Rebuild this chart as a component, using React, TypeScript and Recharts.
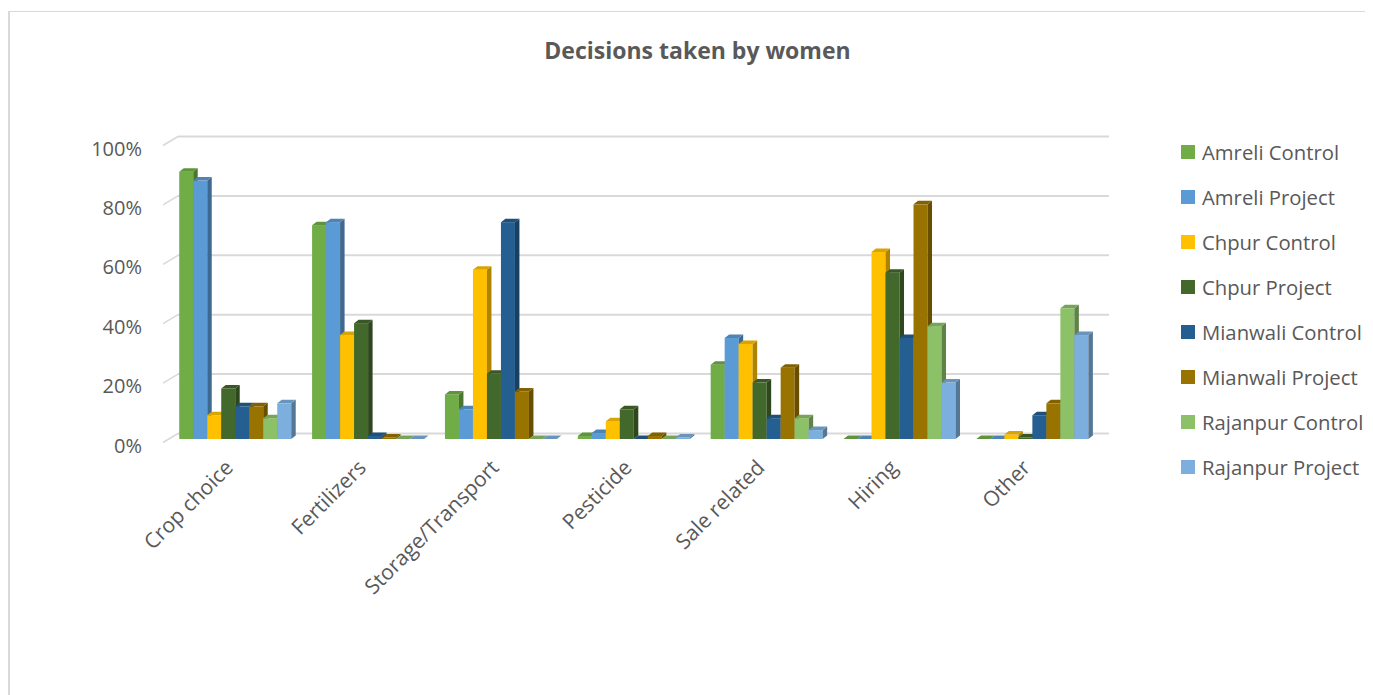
import { BarChart, Bar, XAxis, YAxis, CartesianGrid } from 'recharts';

const CATEGORIES = ['Crop choice', 'Fertilizers', 'Storage/Transport', 'Pesticide', 'Sale related', 'Hiring', 'Other'];

const SERIES_NAMES = [
  'Amreli Control',
  'Amreli Project',
  'Chpur Control',
  'Chpur Project',
  'Mianwali Control',
  'Mianwali Project',
  'Rajanpur Control',
  'Rajanpur Project',
];

const SERIES_COLORS = ['#70AD47', '#5B9BD5', '#FFC000', '#43682B', '#255E91', '#997300', '#8CC168', '#7CAFDD'];

// share of respondents, one value per category
const AMRELI_CONTROL = [0.9, 0.72, 0.15, 0.01, 0.25, 0, 0];
const AMRELI_PROJECT = [0.87, 0.73, 0.1, 0.02, 0.34, 0, 0];
const CHPUR_CONTROL = [0.08, 0.35, 0.57, 0.06, 0.32, 0.63, 0.015];
const CHPUR_PROJECT = [0.17, 0.39, 0.22, 0.1, 0.19, 0.56, 0.005];
const MIANWALI_CONTROL = [0.11, 0.01, 0.73, 0, 0.07, 0.34, 0.08];
const MIANWALI_PROJECT = [0.11, 0.005, 0.16, 0.01, 0.24, 0.79, 0.12];
const RAJANPUR_CONTROL = [0.07, 0, 0, 0, 0.07, 0.38, 0.44];
const RAJANPUR_PROJECT = [0.12, 0, 0, 0.005, 0.03, 0.19, 0.35];

const Y_TICKS = [0, 0.2, 0.4, 0.6, 0.8, 1];

const SERIES_VALUES = [
  AMRELI_CONTROL,
  AMRELI_PROJECT,
  CHPUR_CONTROL,
  CHPUR_PROJECT,
  MIANWALI_CONTROL,
  MIANWALI_PROJECT,
  RAJANPUR_CONTROL,
  RAJANPUR_PROJECT,
];

const data = CATEGORIES.map((name, i) => {
  const row: Record<string, any> = { name };
  SERIES_NAMES.forEach((s, j) => {
    row[s] = SERIES_VALUES[j][i];
  });
  return row;
});

const FONT = '"Open Sans", sans-serif';
const TEXT = '#595959';
const DEPTH_X = 4.5;
const DEPTH_Y = 3.5;

function shade(hex: string, f: number) {
  const n = parseInt(hex.slice(1), 16);
  const r = Math.round(((n >> 16) & 255) * f);
  const g = Math.round(((n >> 8) & 255) * f);
  const b = Math.round((n & 255) * f);
  return `rgb(${r},${g},${b})`;
}

// column with a thin top and right face to fake Excel's 3D look
const Column3D = (props: any) => {
  const { x, y, width, height, fill } = props;
  if (x == null || y == null) return null;
  const h = Math.max(0, height || 0);
  const top = `${x},${y} ${x + DEPTH_X},${y - DEPTH_Y} ${x + width + DEPTH_X},${y - DEPTH_Y} ${x + width},${y}`;
  const side = `${x + width},${y} ${x + width + DEPTH_X},${y - DEPTH_Y} ${x + width + DEPTH_X},${y + h - DEPTH_Y} ${x + width},${y + h}`;
  return (
    <g>
      {h > 0 && <rect x={x} y={y} width={width} height={h} fill={fill} />}
      <polygon points={side} fill={shade(fill, 0.68)} />
      <polygon points={top} fill={shade(fill, 0.85)} />
    </g>
  );
};

const GridLine = (props: any) => {
  const { x1, x2, y1, index } = props;
  const gy = y1 - 5.5;
  return (
    <g key={`grid-${index}`}>
      <line x1={x1 + 9} x2={x2 + 10} y1={gy} y2={gy} stroke="#d9d9d9" strokeWidth={2} />
      <line x1={x1 - 6} y1={gy + 9} x2={x1 + 9} y2={gy} stroke="#d9d9d9" strokeWidth={1.5} />
    </g>
  );
};

const YTick = (props: any) => {
  const { x, y, payload } = props;
  return (
    <text x={x} y={y + 6} textAnchor="end" dominantBaseline="central" fill={TEXT} fontSize={20} fontFamily={FONT}>
      {`${Math.round(payload.value * 100)}%`}
    </text>
  );
};

const XTick = (props: any) => {
  const { x, y, payload } = props;
  const ax = x - 1;
  const ay = y + 22;
  return (
    <text
      x={ax}
      y={ay}
      textAnchor="end"
      transform={`rotate(-45, ${ax}, ${ay})`}
      fill={TEXT}
      fontSize={21}
      fontFamily={FONT}
    >
      {payload.value}
    </text>
  );
};

export default function App() {
  return (
    <div
      style={{
        position: 'relative',
        width: 1365,
        height: 684,
        marginTop: 3,
        borderTop: '1px solid #d9d9d9',
        borderLeft: '2px solid #d9d9d9',
        background: '#fff',
        fontFamily: FONT,
      }}
    >
      <div
        style={{
          position: 'absolute',
          left: 0,
          width: 1375,
          top: 22,
          textAlign: 'center',
          fontWeight: 700,
          fontSize: 23,
          color: TEXT,
        }}
      >
        Decisions taken by women
      </div>
      <BarChart
        width={1363}
        height={683}
        data={data}
        margin={{ top: 130, right: 274, bottom: 248, left: 99 }}
        barCategoryGap="7.7%"
        barGap={0}
      >
        <CartesianGrid vertical={false} horizontal={GridLine} />
        <YAxis
          domain={[0, 1]}
          ticks={Y_TICKS}
          width={60}
          axisLine={false}
          tickLine={false}
          tickMargin={21}
          tick={YTick}
        />
        <XAxis dataKey="name" axisLine={false} tickLine={false} interval={0} tick={XTick} height={8} />
        {SERIES_NAMES.map((s, i) => (
          <Bar key={s} dataKey={s} fill={SERIES_COLORS[i]} shape={Column3D} isAnimationActive={false} />
        ))}
      </BarChart>
      <div style={{ position: 'absolute', left: 1171, top: 117, width: 200, whiteSpace: 'nowrap' }}>
        {SERIES_NAMES.map((s, i) => (
          <div key={s} style={{ display: 'flex', alignItems: 'center', height: 45, color: TEXT, fontSize: 20.3 }}>
            <span style={{ width: 14, height: 14, flex: 'none', background: SERIES_COLORS[i], marginRight: 7 }} />
            <span>{s}</span>
          </div>
        ))}
      </div>
    </div>
  );
}
